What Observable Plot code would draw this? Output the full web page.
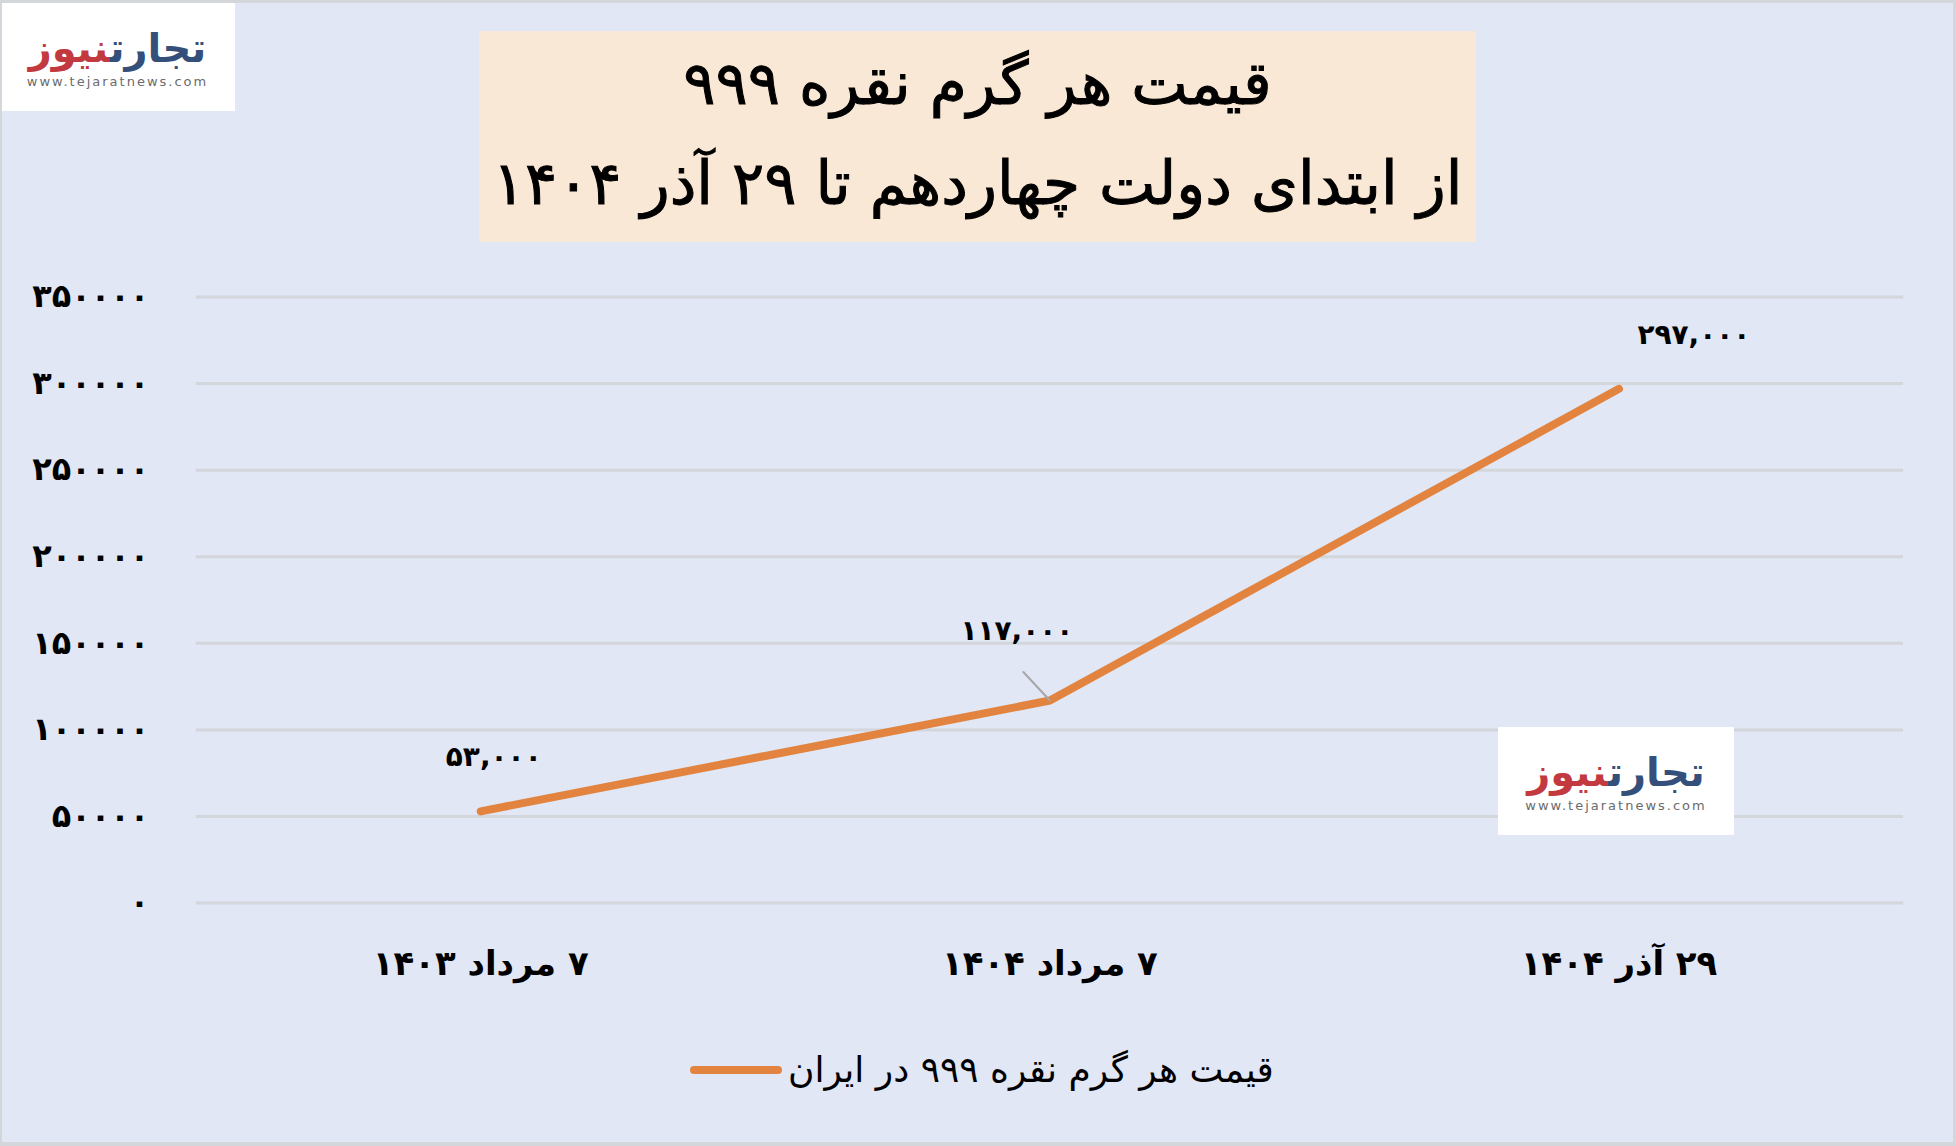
<!DOCTYPE html>
<html lang="fa">
<head>
<meta charset="utf-8">
<script src="https://cdn.jsdelivr.net/npm/d3@7"></script>
<script src="https://cdn.jsdelivr.net/npm/@observablehq/plot@0.6"></script>
<style>
  html, body { margin: 0; padding: 0; background: #e1e7f4; }
  #page {
    position: relative; width: 1956px; height: 1146px; box-sizing: border-box;
    background: #e1e7f4; overflow: hidden;
    border-left: 2px solid #d3d6da; border-top: 3px solid #d3d6da;
    border-right: 3px solid #d3d6da; border-bottom: 4px solid #d3d6da;
    font-family: "DejaVu Sans", "Noto Sans", sans-serif;
  }
  #chart { position: absolute; left: -2px; top: -3px; }
  .titlebox {
    position: absolute; left: 477px; top: 28px; width: 997px; height: 211px;
    background: #fae8d7; display: flex; flex-direction: column; justify-content: center;
    align-items: center; direction: rtl; color: #000; font-size: 60px; font-weight: normal;
    line-height: 100px; white-space: nowrap; -webkit-text-stroke: 1px #000;
    padding-bottom: 8px; box-sizing: border-box;
  }
  .logo {
    position: absolute; background: #fff; display: flex; flex-direction: column;
    align-items: center; justify-content: center;
  }
  .logo .name { direction: rtl; font-weight: bold; font-size: 40px; line-height: 44px; letter-spacing: -1px; }
  .logo .name .a { color: #34507a; }
  .logo .name .b { color: #c23a3f; }
  .logo .url { font-size: 13px; color: #6b6b6b; letter-spacing: 2px; margin-top: 4px; }
  .legend {
    position: absolute; left: 688px; top: 1046px; display: flex; align-items: center;
    direction: ltr; font-size: 36px; color: #000; white-space: nowrap;
  }
  .legend .swatch { width: 92px; height: 8px; border-radius: 4px; background: #e2843f; margin-right: 6px; }
  .legend .label { direction: rtl; }
</style>
</head>
<body>
<div id="page">
  <div id="chart"></div>
  <div class="logo" style="left:-2px; top:0px; width:235px; height:108px;">
    <div class="name"><span class="a">تجارت</span><span class="b">نیوز</span></div>
    <div class="url">www.tejaratnews.com</div>
  </div>
  <div class="titlebox">
    <div>قیمت هر گرم نقره ۹۹۹</div>
    <div>از ابتدای دولت چهاردهم تا ۲۹ آذر ۱۴۰۴</div>
  </div>
  <div class="logo" style="left:1496px; top:724px; width:236px; height:108px;">
    <div class="name"><span class="a">تجارت</span><span class="b">نیوز</span></div>
    <div class="url">www.tejaratnews.com</div>
  </div>
  <div class="legend">
    <div class="swatch"></div>
    <div class="label">قیمت هر گرم نقره ۹۹۹ در ایران</div>
  </div>
</div>
<script>
// ---- data ----
const categories = ["۷ مرداد ۱۴۰۳", "۷ مرداد ۱۴۰۴", "۲۹ آذر ۱۴۰۴"];
const prices = [53000, 117000, 297000];
const yTicks = [0, 50000, 100000, 150000, 200000, 250000, 300000, 350000];
const seriesName = "قیمت هر گرم نقره ۹۹۹ در ایران";

const data = categories.map((c, i) => ({date: c, price: prices[i]}));
const faDigits = "۰۱۲۳۴۵۶۷۸۹";
const fa = s => String(s).replace(/\d/g, d => faDigits[d]);
const fmtLabel = v => fa(d3.format(",")(v));

const lineColor = "#e2843f";
const font = "DejaVu Sans, Noto Sans, sans-serif";

const chart = Plot.plot({
  width: 1956,
  height: 1146,
  marginTop: 297,
  marginBottom: 242,
  marginLeft: 196,
  marginRight: 50,
  style: {background: "transparent", fontFamily: font, color: "#000"},
  x: {type: "point", domain: categories, padding: 0.5, label: null},
  y: {domain: [0, 350000], label: null},
  marks: [
    Plot.gridY(yTicks, {stroke: "#d3d6db", strokeOpacity: 1, strokeWidth: 3}),
    Plot.axisY(yTicks, {tickSize: 0, tickPadding: 47, tickFormat: fa, fontSize: 32, fontWeight: "bold", fill: "#000", label: null}),
    Plot.axisX({tickSize: 0, tickPadding: 48, fontSize: 34, fontWeight: "bold", fill: "#000", label: null}),
    Plot.line(data, {x: "date", y: "price", stroke: lineColor, strokeWidth: 8, strokeLinecap: "round", strokeLinejoin: "round"}),
    Plot.vector(data.filter((d, i) => i === 1), {
      x: "date", y: "price", length: 39, rotate: -43, anchor: "start",
      stroke: "#a6a6a6", strokeWidth: 2,
      shape: {draw(context, l) { context.moveTo(0, 0); context.lineTo(0, -l); }}
    }),
    Plot.text(data.filter((d, i) => i === 0), {x: "date", y: "price", text: d => fmtLabel(d.price), dx: 13, dy: -54, fontSize: 28, fontWeight: "bold", fill: "#000"}),
    Plot.text(data.filter((d, i) => i === 1), {x: "date", y: "price", text: d => fmtLabel(d.price), dx: -33, dy: -70, fontSize: 28, fontWeight: "bold", fill: "#000"}),
    Plot.text(data.filter((d, i) => i === 2), {x: "date", y: "price", text: d => fmtLabel(d.price), dx: 75, dy: -54, fontSize: 28, fontWeight: "bold", fill: "#000"})
  ]
});
d3.select(chart).selectAll('g[aria-label="x-axis tick label"] text').attr("direction", "rtl");
document.getElementById("chart").appendChild(chart);
</script>
</body>
</html>
